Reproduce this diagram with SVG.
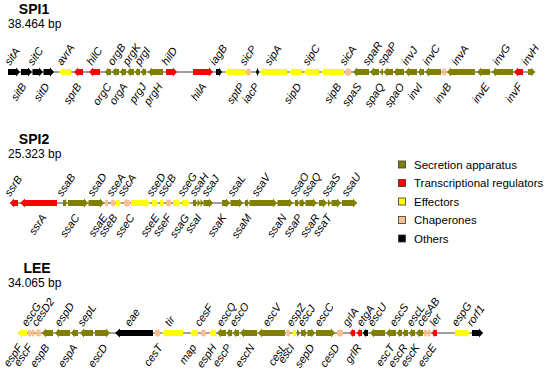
<svg xmlns="http://www.w3.org/2000/svg" width="550" height="373" viewBox="0 0 550 373">
<style>
.sa{fill:#808000}.tr{fill:#ff0000}.ef{fill:#ffff00}.ch{fill:#fac090}.ot{fill:#000}
text{font-family:"Liberation Sans",Arial,Helvetica,sans-serif;fill:#000}
.lb{font-style:italic;font-size:11px}
.u{text-anchor:start}.d{text-anchor:end}
.tt{font-weight:bold;font-size:14px;text-anchor:middle}
.bp{font-size:12px}
.lg{font-size:11.5px}
.bb{stroke:#808080;stroke-width:1.5;fill:none}
.box{stroke:#333;stroke-width:0.8}
</style>
<rect width="550" height="373" fill="#fff"/>
<text class="tt" x="34" y="14">SPI1</text><text class="bp" x="8" y="28">38.464 bp</text>
<text class="tt" x="34" y="144">SPI2</text><text class="bp" x="8" y="158">25.323 bp</text>
<text class="tt" x="37" y="273">LEE</text><text class="bp" x="8" y="287">34.065 bp</text>
<g id="connectors">
<line class="bb" x1="8" y1="72" x2="535" y2="72"/>
<line class="bb" x1="10" y1="203" x2="357" y2="203"/>
<line class="bb" x1="18" y1="333" x2="483" y2="333"/>
</g>
<g id="SPI1" transform="translate(0,72)">
<g id="sitA"><path class="ot" d="M8 -3H16V-4.5L20 0L16 4.5V3H8Z"/><text class="lb u" transform="translate(10,-6) rotate(-55)">sitA</text></g>
<g id="sitB"><path class="ot" d="M21 -3H28V-4.5L32 0L28 4.5V3H21Z"/><text class="lb d" transform="translate(27,14.5) rotate(-55)">sitB</text></g>
<g id="sitC"><path class="ot" d="M32.5 -3H39V-4.5L43 0L39 4.5V3H32.5Z"/><text class="lb u" transform="translate(33,-6) rotate(-55)">sitC</text></g>
<g id="sitD"><path class="ot" d="M43.5 -3H50V-4.5L54 0L50 4.5V3H43.5Z"/><text class="lb d" transform="translate(50,14.5) rotate(-55)">sitD</text></g>
<g id="avrA"><path class="ef" d="M71 -3H63V-4.5L59 0L63 4.5V3H71Z"/><text class="lb u" transform="translate(62,-6) rotate(-55)">avrA</text></g>
<g id="sprB"><path class="tr" d="M83 -3H78V-4.5L74 0L78 4.5V3H83Z"/><text class="lb d" transform="translate(82,14.5) rotate(-55)">sprB</text></g>
<g id="hilC"><path class="tr" d="M100 -3H93V-4.5L89 0L93 4.5V3H100Z"/><text class="lb u" transform="translate(92,-6) rotate(-55)">hilC</text></g>
<g id="orgC"><path class="sa" d="M111 -3H108V-4.5L105 0L108 4.5V3H111Z"/><text class="lb d" transform="translate(112,14.5) rotate(-55)">orgC</text></g>
<g id="orgB"><path class="sa" d="M119 -3H115.5V-4.5L112 0L115.5 4.5V3H119Z"/><text class="lb u" transform="translate(113,-6) rotate(-55)">orgB</text></g>
<g id="orgA"><path class="sa" d="M126 -3H123V-4.5L120 0L123 4.5V3H126Z"/><text class="lb d" transform="translate(128,14.5) rotate(-55)">orgA</text></g>
<g id="prgK"><path class="sa" d="M134 -3H130.5V-4.5L127 0L130.5 4.5V3H134Z"/><text class="lb u" transform="translate(128,-6) rotate(-55)">prgK</text></g>
<g id="prgJ"><path class="sa" d="M140 -3H137.5V-4.5L135 0L137.5 4.5V3H140Z"/><text class="lb d" transform="translate(147,14.5) rotate(-55)">prgJ</text></g>
<g id="prgI"><path class="sa" d="M146 -3H143.5V-4.5L141 0L143.5 4.5V3H146Z"/><text class="lb u" transform="translate(140,-6) rotate(-55)">prgI</text></g>
<g id="prgH"><path class="sa" d="M163 -3H152V-4.5L148 0L152 4.5V3H163Z"/><text class="lb d" transform="translate(163,14.5) rotate(-55)">prgH</text></g>
<g id="hilD"><path class="tr" d="M166 -3H173V-4.5L177 0L173 4.5V3H166Z"/><text class="lb u" transform="translate(167,-6) rotate(-55)">hilD</text></g>
<g id="hilA"><path class="tr" d="M193 -3H209V-4.5L213 0L209 4.5V3H193Z"/><text class="lb d" transform="translate(207,14.5) rotate(-55)">hilA</text></g>
<g id="iagB"><path class="ot" d="M216 -3H219V-4.5L222 0L219 4.5V3H216Z"/><text class="lb u" transform="translate(215,-6) rotate(-55)">iagB</text></g>
<g id="sptP"><path class="ef" d="M245.5 -3H229V-4.5L225 0L229 4.5V3H245.5Z"/><text class="lb d" transform="translate(245,14.5) rotate(-55)">sptP</text></g>
<g id="sicP"><rect class="ch" x="246" y="-3.5" width="5" height="7" rx="2"/><text class="lb u" transform="translate(245,-6) rotate(-55)">sicP</text></g>
<g id="iacP"><path class="ot" d="M256 0L257.5 -4L259 0L257.5 4Z"/><text class="lb d" transform="translate(260,14.5) rotate(-55)">iacP</text></g>
<g id="sipA"><path class="ef" d="M287 -3H264V-4.5L260 0L264 4.5V3H287Z"/><text class="lb u" transform="translate(270,-6) rotate(-55)">sipA</text></g>
<g id="sipD"><path class="ef" d="M302 -3H293V-4.5L289 0L293 4.5V3H302Z"/><text class="lb d" transform="translate(302,14.5) rotate(-55)">sipD</text></g>
<g id="sipC"><path class="ef" d="M319 -3H308V-4.5L304 0L308 4.5V3H319Z"/><text class="lb u" transform="translate(308,-6) rotate(-55)">sipC</text></g>
<g id="sipB"><path class="ef" d="M344 -3H325V-4.5L321 0L325 4.5V3H344Z"/><text class="lb d" transform="translate(342,14.5) rotate(-55)">sipB</text></g>
<g id="sicA"><rect class="ch" x="345" y="-3.5" width="6" height="7" rx="2"/><text class="lb u" transform="translate(345,-6) rotate(-55)">sicA</text></g>
<g id="spaS"><path class="sa" d="M369 -3H357V-4.5L353 0L357 4.5V3H369Z"/><text class="lb d" transform="translate(362,14.5) rotate(-55)">spaS</text></g>
<g id="spaR"><path class="sa" d="M379 -3H374V-4.5L370 0L374 4.5V3H379Z"/><text class="lb u" transform="translate(368,-6) rotate(-55)">spaR</text></g>
<g id="spaQ"><path class="sa" d="M383 -4L379.5 0L383 4Z"/><text class="lb d" transform="translate(385,14.5) rotate(-55)">spaQ</text></g>
<g id="spaP"><path class="sa" d="M393 -3H387.5V-4.5L383.5 0L387.5 4.5V3H393Z"/><text class="lb u" transform="translate(383,-6) rotate(-55)">spaP</text></g>
<g id="spaO"><path class="sa" d="M404 -3H397.5V-4.5L393.5 0L397.5 4.5V3H404Z"/><text class="lb d" transform="translate(405,14.5) rotate(-55)">spaO</text></g>
<g id="invJ"><path class="sa" d="M417 -3H409V-4.5L405 0L409 4.5V3H417Z"/><text class="lb u" transform="translate(407,-6) rotate(-55)">invJ</text></g>
<g id="invI"><path class="sa" d="M424 -3H421V-4.5L418 0L421 4.5V3H424Z"/><text class="lb d" transform="translate(423,14.5) rotate(-55)">invI</text></g>
<g id="invC"><path class="sa" d="M441 -3H429V-4.5L425 0L429 4.5V3H441Z"/><text class="lb u" transform="translate(428,-6) rotate(-55)">invC</text></g>
<g id="invB"><rect class="ch" x="442" y="-3.5" width="4.5" height="7" rx="2"/><text class="lb d" transform="translate(452,14.5) rotate(-55)">invB</text></g>
<g id="invA"><path class="sa" d="M475 -3H451V-4.5L447 0L451 4.5V3H475Z"/><text class="lb u" transform="translate(457,-6) rotate(-55)">invA</text></g>
<g id="invE"><path class="sa" d="M490 -3H481V-4.5L477 0L481 4.5V3H490Z"/><text class="lb d" transform="translate(490,14.5) rotate(-55)">invE</text></g>
<g id="invG"><path class="sa" d="M513 -3H496V-4.5L492 0L496 4.5V3H513Z"/><text class="lb u" transform="translate(498,-6) rotate(-55)">invG</text></g>
<g id="invF"><path class="tr" d="M523 -3H518V-4.5L514 0L518 4.5V3H523Z"/><text class="lb d" transform="translate(523,14.5) rotate(-55)">invF</text></g>
<g id="invH"><path class="sa" d="M528 -3H531.5V-4.5L535 0L531.5 4.5V3H528Z"/><text class="lb u" transform="translate(527,-6) rotate(-55)">invH</text></g>
</g>
<g id="SPI2" transform="translate(0,203)">
<g id="ssrB"><path class="tr" d="M18 -3H14V-4.5L10 0L14 4.5V3H18Z"/><text class="lb u" transform="translate(10,-6) rotate(-55)">ssrB</text></g>
<g id="ssrA"><path class="tr" d="M57 -3H25V-4.5L20 0L25 4.5V3H57Z"/><text class="lb d" transform="translate(47,14.5) rotate(-55)">ssrA</text></g>
<g id="ssaB"><path class="sa" d="M63 -3H65V-4.5L67 0L65 4.5V3H63Z"/><text class="lb u" transform="translate(62,-6) rotate(-55)">ssaB</text></g>
<g id="ssaC"><path class="sa" d="M68 -3H84V-4.5L88 0L84 4.5V3H68Z"/><text class="lb d" transform="translate(80,14.5) rotate(-55)">ssaC</text></g>
<g id="ssaD"><path class="sa" d="M88.5 -3H100V-4.5L104 0L100 4.5V3H88.5Z"/><text class="lb u" transform="translate(93,-6) rotate(-55)">ssaD</text></g>
<g id="ssaE"><rect class="ch" x="105" y="-3.5" width="3" height="7" rx="1.5"/><text class="lb d" transform="translate(108,14.5) rotate(-55)">ssaE</text></g>
<g id="sseA"><rect class="ch" x="111" y="-3.5" width="4" height="7" rx="2"/><text class="lb u" transform="translate(112,-6) rotate(-55)">sseA</text></g>
<g id="sseB"><path class="ef" d="M116 -3H118.5V-4.5L121 0L118.5 4.5V3H116Z"/><text class="lb d" transform="translate(118,14.5) rotate(-55)">sseB</text></g>
<g id="sscA"><rect class="ch" x="124" y="-3.5" width="6" height="7" rx="2"/><text class="lb u" transform="translate(123,-6) rotate(-55)">sscA</text></g>
<g id="sseC"><path class="ef" d="M131 -3H146V-4.5L150 0L146 4.5V3H131Z"/><text class="lb d" transform="translate(135,14.5) rotate(-55)">sseC</text></g>
<g id="sseD"><path class="ef" d="M152 -3H155V-4.5L158 0L155 4.5V3H152Z"/><text class="lb u" transform="translate(152,-6) rotate(-55)">sseD</text></g>
<g id="sseE"><path class="ef" d="M160 -3H162V-4.5L164 0L162 4.5V3H160Z"/><text class="lb d" transform="translate(160,14.5) rotate(-55)">sseE</text></g>
<g id="sscB"><rect class="ch" x="166" y="-3.5" width="5" height="7" rx="2"/><text class="lb u" transform="translate(163,-6) rotate(-55)">sscB</text></g>
<g id="sseF"><path class="ef" d="M173 -3H177V-4.5L181 0L177 4.5V3H173Z"/><text class="lb d" transform="translate(172,14.5) rotate(-55)">sseF</text></g>
<g id="sseG"><path class="ef" d="M182 -3H186V-4.5L190 0L186 4.5V3H182Z"/><text class="lb u" transform="translate(183,-6) rotate(-55)">sseG</text></g>
<g id="ssaG"><path class="sa" d="M193 -3H195V-4.5L197 0L195 4.5V3H193Z"/><text class="lb d" transform="translate(190,14.5) rotate(-55)">ssaG</text></g>
<g id="ssaH"><path class="sa" d="M197.5 -4L200.5 0L197.5 4Z"/><text class="lb u" transform="translate(195,-6) rotate(-55)">ssaH</text></g>
<g id="ssaI"><path class="sa" d="M200.5 -4L203.5 0L200.5 4Z"/><text class="lb d" transform="translate(202,14.5) rotate(-55)">ssaI</text></g>
<g id="ssaJ"><path class="sa" d="M203.5 -3H209V-4.5L213 0L209 4.5V3H203.5Z"/><text class="lb u" transform="translate(207,-6) rotate(-55)">ssaJ</text></g>
<g id="ssaK"><path class="sa" d="M222 -3H226V-4.5L230 0L226 4.5V3H222Z"/><text class="lb d" transform="translate(227,14.5) rotate(-55)">ssaK</text></g>
<g id="ssaL"><path class="sa" d="M230.5 -3H239V-4.5L243 0L239 4.5V3H230.5Z"/><text class="lb u" transform="translate(233,-6) rotate(-55)">ssaL</text></g>
<g id="ssaM"><path class="sa" d="M245 -3H247V-4.5L249 0L247 4.5V3H245Z"/><text class="lb d" transform="translate(252,14.5) rotate(-55)">ssaM</text></g>
<g id="ssaV"><path class="sa" d="M249.5 -3H273V-4.5L277 0L273 4.5V3H249.5Z"/><text class="lb u" transform="translate(257,-6) rotate(-55)">ssaV</text></g>
<g id="ssaN"><path class="sa" d="M277.5 -3H289V-4.5L293 0L289 4.5V3H277.5Z"/><text class="lb d" transform="translate(287,14.5) rotate(-55)">ssaN</text></g>
<g id="ssaO"><path class="sa" d="M295 -3H297V-4.5L299 0L297 4.5V3H295Z"/><text class="lb u" transform="translate(295,-6) rotate(-55)">ssaO</text></g>
<g id="ssaP"><path class="sa" d="M299.5 -3H302V-4.5L305 0L302 4.5V3H299.5Z"/><text class="lb d" transform="translate(303,14.5) rotate(-55)">ssaP</text></g>
<g id="ssaQ"><path class="sa" d="M305.5 -3H313V-4.5L317 0L313 4.5V3H305.5Z"/><text class="lb u" transform="translate(307,-6) rotate(-55)">ssaQ</text></g>
<g id="ssaR"><path class="sa" d="M319 -3H323V-4.5L327 0L323 4.5V3H319Z"/><text class="lb d" transform="translate(320,14.5) rotate(-55)">ssaR</text></g>
<g id="ssaS"><path class="sa" d="M328 -4L331 0L328 4Z"/><text class="lb u" transform="translate(327,-6) rotate(-55)">ssaS</text></g>
<g id="ssaT"><path class="sa" d="M331.5 -3H337V-4.5L341 0L337 4.5V3H331.5Z"/><text class="lb d" transform="translate(332,14.5) rotate(-55)">ssaT</text></g>
<g id="ssaU"><path class="sa" d="M342 -3H353V-4.5L357 0L353 4.5V3H342Z"/><text class="lb u" transform="translate(347,-6) rotate(-55)">ssaU</text></g>
</g>
<g id="LEE" transform="translate(0,333)">
<g id="espF"><path class="ef" d="M27 -3H22V-4.5L18 0L22 4.5V3H27Z"/><text class="lb d" transform="translate(23,14.5) rotate(-55)">espF</text></g>
<g id="escF"><rect class="ch" x="28" y="-3.5" width="3" height="7" rx="1.5"/><text class="lb d" transform="translate(33,14.5) rotate(-55)">escF</text></g>
<g id="escG"><rect class="ch" x="31.5" y="-3.5" width="3" height="7" rx="1.5"/><text class="lb u" transform="translate(27,-6) rotate(-55)">escG</text></g>
<g id="cesD2"><rect class="ch" x="36" y="-3.5" width="5" height="7" rx="2"/><text class="lb u" transform="translate(37,-6) rotate(-55)">cesD2</text></g>
<g id="espB"><path class="sa" d="M53 -3H46V-4.5L42 0L46 4.5V3H53Z"/><text class="lb d" transform="translate(50,14.5) rotate(-55)">espB</text></g>
<g id="espD"><path class="sa" d="M70 -3H59V-4.5L55 0L59 4.5V3H70Z"/><text class="lb u" transform="translate(60,-6) rotate(-55)">espD</text></g>
<g id="espA"><path class="sa" d="M78 -3H74.5V-4.5L71 0L74.5 4.5V3H78Z"/><text class="lb d" transform="translate(78,14.5) rotate(-55)">espA</text></g>
<g id="sepL"><path class="sa" d="M93 -3H84V-4.5L80 0L84 4.5V3H93Z"/><text class="lb u" transform="translate(83,-6) rotate(-55)">sepL</text></g>
<g id="escD"><path class="sa" d="M95 -3H106V-4.5L110 0L106 4.5V3H95Z"/><text class="lb d" transform="translate(108,14.5) rotate(-55)">escD</text></g>
<g id="eae"><path class="ot" d="M153 -3H120V-4.5L115 0L120 4.5V3H153Z"/><text class="lb u" transform="translate(130,-6) rotate(-55)">eae</text></g>
<g id="cesT"><rect class="ch" x="155" y="-3.5" width="5" height="7" rx="2"/><text class="lb d" transform="translate(163,14.5) rotate(-55)">cesT</text></g>
<g id="tir"><path class="ef" d="M183 -3H166V-4.5L162 0L166 4.5V3H183Z"/><text class="lb u" transform="translate(170,-6) rotate(-55)">tir</text></g>
<g id="map"><path class="ef" d="M198 -3H194V-4.5L190 0L194 4.5V3H198Z"/><text class="lb d" transform="translate(197,14.5) rotate(-55)">map</text></g>
<g id="cesF"><rect class="ch" x="201" y="-3.5" width="5" height="7" rx="2"/><text class="lb u" transform="translate(200,-6) rotate(-55)">cesF</text></g>
<g id="espH"><path class="ef" d="M216 -3H212.5V-4.5L209 0L212.5 4.5V3H216Z"/><text class="lb d" transform="translate(217,14.5) rotate(-55)">espH</text></g>
<g id="escP"><path class="sa" d="M226 -3H221V-4.5L217 0L221 4.5V3H226Z"/><text class="lb d" transform="translate(232,14.5) rotate(-55)">escP</text></g>
<g id="escQ"><path class="sa" d="M232 -3H229.5V-4.5L226.5 0L229.5 4.5V3H232Z"/><text class="lb u" transform="translate(222,-6) rotate(-55)">escQ</text></g>
<g id="escO"><path class="sa" d="M239 -3H236V-4.5L233 0L236 4.5V3H239Z"/><text class="lb u" transform="translate(235,-6) rotate(-55)">escO</text></g>
<g id="escN"><path class="sa" d="M257 -3H244V-4.5L240 0L244 4.5V3H257Z"/><text class="lb d" transform="translate(255,14.5) rotate(-55)">escN</text></g>
<g id="escV"><path class="sa" d="M285 -3H262V-4.5L258 0L262 4.5V3H285Z"/><text class="lb u" transform="translate(268,-6) rotate(-55)">escV</text></g>
<g id="cesL"><rect class="ch" x="286" y="-3.5" width="4" height="7" rx="2"/><text class="lb d" transform="translate(287,14.5) rotate(-55)">cesL</text></g>
<g id="espZ"><path class="ef" d="M296 -3H294V-4.5L292 0L294 4.5V3H296Z"/><text class="lb u" transform="translate(292,-6) rotate(-55)">espZ</text></g>
<g id="escI"><path class="sa" d="M297 -4L300.5 0L297 4Z"/><text class="lb d" transform="translate(295,14.5) rotate(-55)">escI</text></g>
<g id="escJ"><path class="sa" d="M301 -3H304V-4.5L307 0L304 4.5V3H301Z"/><text class="lb u" transform="translate(303,-6) rotate(-55)">escJ</text></g>
<g id="sepD"><path class="sa" d="M307.5 -3H311.5V-4.5L315 0L311.5 4.5V3H307.5Z"/><text class="lb d" transform="translate(315,14.5) rotate(-55)">sepD</text></g>
<g id="escC"><path class="sa" d="M316 -3H331V-4.5L335 0L331 4.5V3H316Z"/><text class="lb u" transform="translate(320,-6) rotate(-55)">escC</text></g>
<g id="cesD"><rect class="ch" x="337" y="-3.5" width="6" height="7" rx="2"/><text class="lb d" transform="translate(340,14.5) rotate(-55)">cesD</text></g>
<g id="grlA"><path class="tr" d="M355 -3H352.5V-4.5L350 0L352.5 4.5V3H355Z"/><text class="lb u" transform="translate(348,-6) rotate(-55)">grlA</text></g>
<g id="grlR"><path class="tr" d="M362 -3H359.5V-4.5L357 0L359.5 4.5V3H362Z"/><text class="lb d" transform="translate(362,14.5) rotate(-55)">grlR</text></g>
<g id="etgA"><path class="ot" d="M368 -3H365.5V-4.5L363 0L365.5 4.5V3H368Z"/><text class="lb u" transform="translate(362,-6) rotate(-55)">etgA</text></g>
<g id="escU"><path class="sa" d="M385 -3H374V-4.5L370 0L374 4.5V3H385Z"/><text class="lb u" transform="translate(373,-6) rotate(-55)">escU</text></g>
<g id="escT"><path class="sa" d="M396 -3H390V-4.5L386 0L390 4.5V3H396Z"/><text class="lb d" transform="translate(395,14.5) rotate(-55)">escT</text></g>
<g id="escS"><path class="sa" d="M402 -3H399.5V-4.5L397 0L399.5 4.5V3H402Z"/><text class="lb u" transform="translate(395,-6) rotate(-55)">escS</text></g>
<g id="escR"><path class="sa" d="M408 -3H405V-4.5L402.5 0L405 4.5V3H408Z"/><text class="lb d" transform="translate(408,14.5) rotate(-55)">escR</text></g>
<g id="escL"><path class="sa" d="M415 -3H412V-4.5L409 0L412 4.5V3H415Z"/><text class="lb u" transform="translate(412,-6) rotate(-55)">escL</text></g>
<g id="escK"><path class="sa" d="M423 -3H419.5V-4.5L416 0L419.5 4.5V3H423Z"/><text class="lb d" transform="translate(420,14.5) rotate(-55)">escK</text></g>
<g id="cesAB"><rect class="ch" x="424" y="-3.5" width="3" height="7" rx="1.5"/><text class="lb u" transform="translate(422,-6) rotate(-55)">cesAB</text></g>
<g id="escE"><rect class="ch" x="427.5" y="-3.5" width="3" height="7" rx="1.5"/><text class="lb d" transform="translate(437,14.5) rotate(-55)">escE</text></g>
<g id="ler"><path class="tr" d="M437 -3H434.5V-4.5L432 0L434.5 4.5V3H437Z"/><text class="lb u" transform="translate(435,-6) rotate(-55)">ler</text></g>
<g id="espG"><path class="ef" d="M455 -3H466V-4.5L470 0L466 4.5V3H455Z"/><text class="lb u" transform="translate(457,-6) rotate(-55)">espG</text></g>
<g id="rorf1"><path class="ot" d="M472 -3H479V-4.5L483 0L479 4.5V3H472Z"/><text class="lb u" transform="translate(472,-6) rotate(-55)">rorf1</text></g>
</g>
<g id="legend">
<g id="lg-sa"><rect class="sa box" x="398.5" y="161" width="7" height="7"/><text class="lg" x="414" y="168.5">Secretion apparatus</text></g>
<g id="lg-tr"><rect class="tr box" x="398.5" y="179.5" width="7" height="7"/><text class="lg" x="414" y="187">Transcriptional regulators</text></g>
<g id="lg-ef"><rect class="ef box" x="398.5" y="198" width="7" height="7"/><text class="lg" x="414" y="205.5">Effectors</text></g>
<g id="lg-ch"><rect class="ch box" x="398.5" y="216.5" width="7" height="7"/><text class="lg" x="414" y="224">Chaperones</text></g>
<g id="lg-ot"><rect class="ot box" x="398.5" y="235" width="7" height="7"/><text class="lg" x="414" y="242.5">Others</text></g>
</g>
</svg>
